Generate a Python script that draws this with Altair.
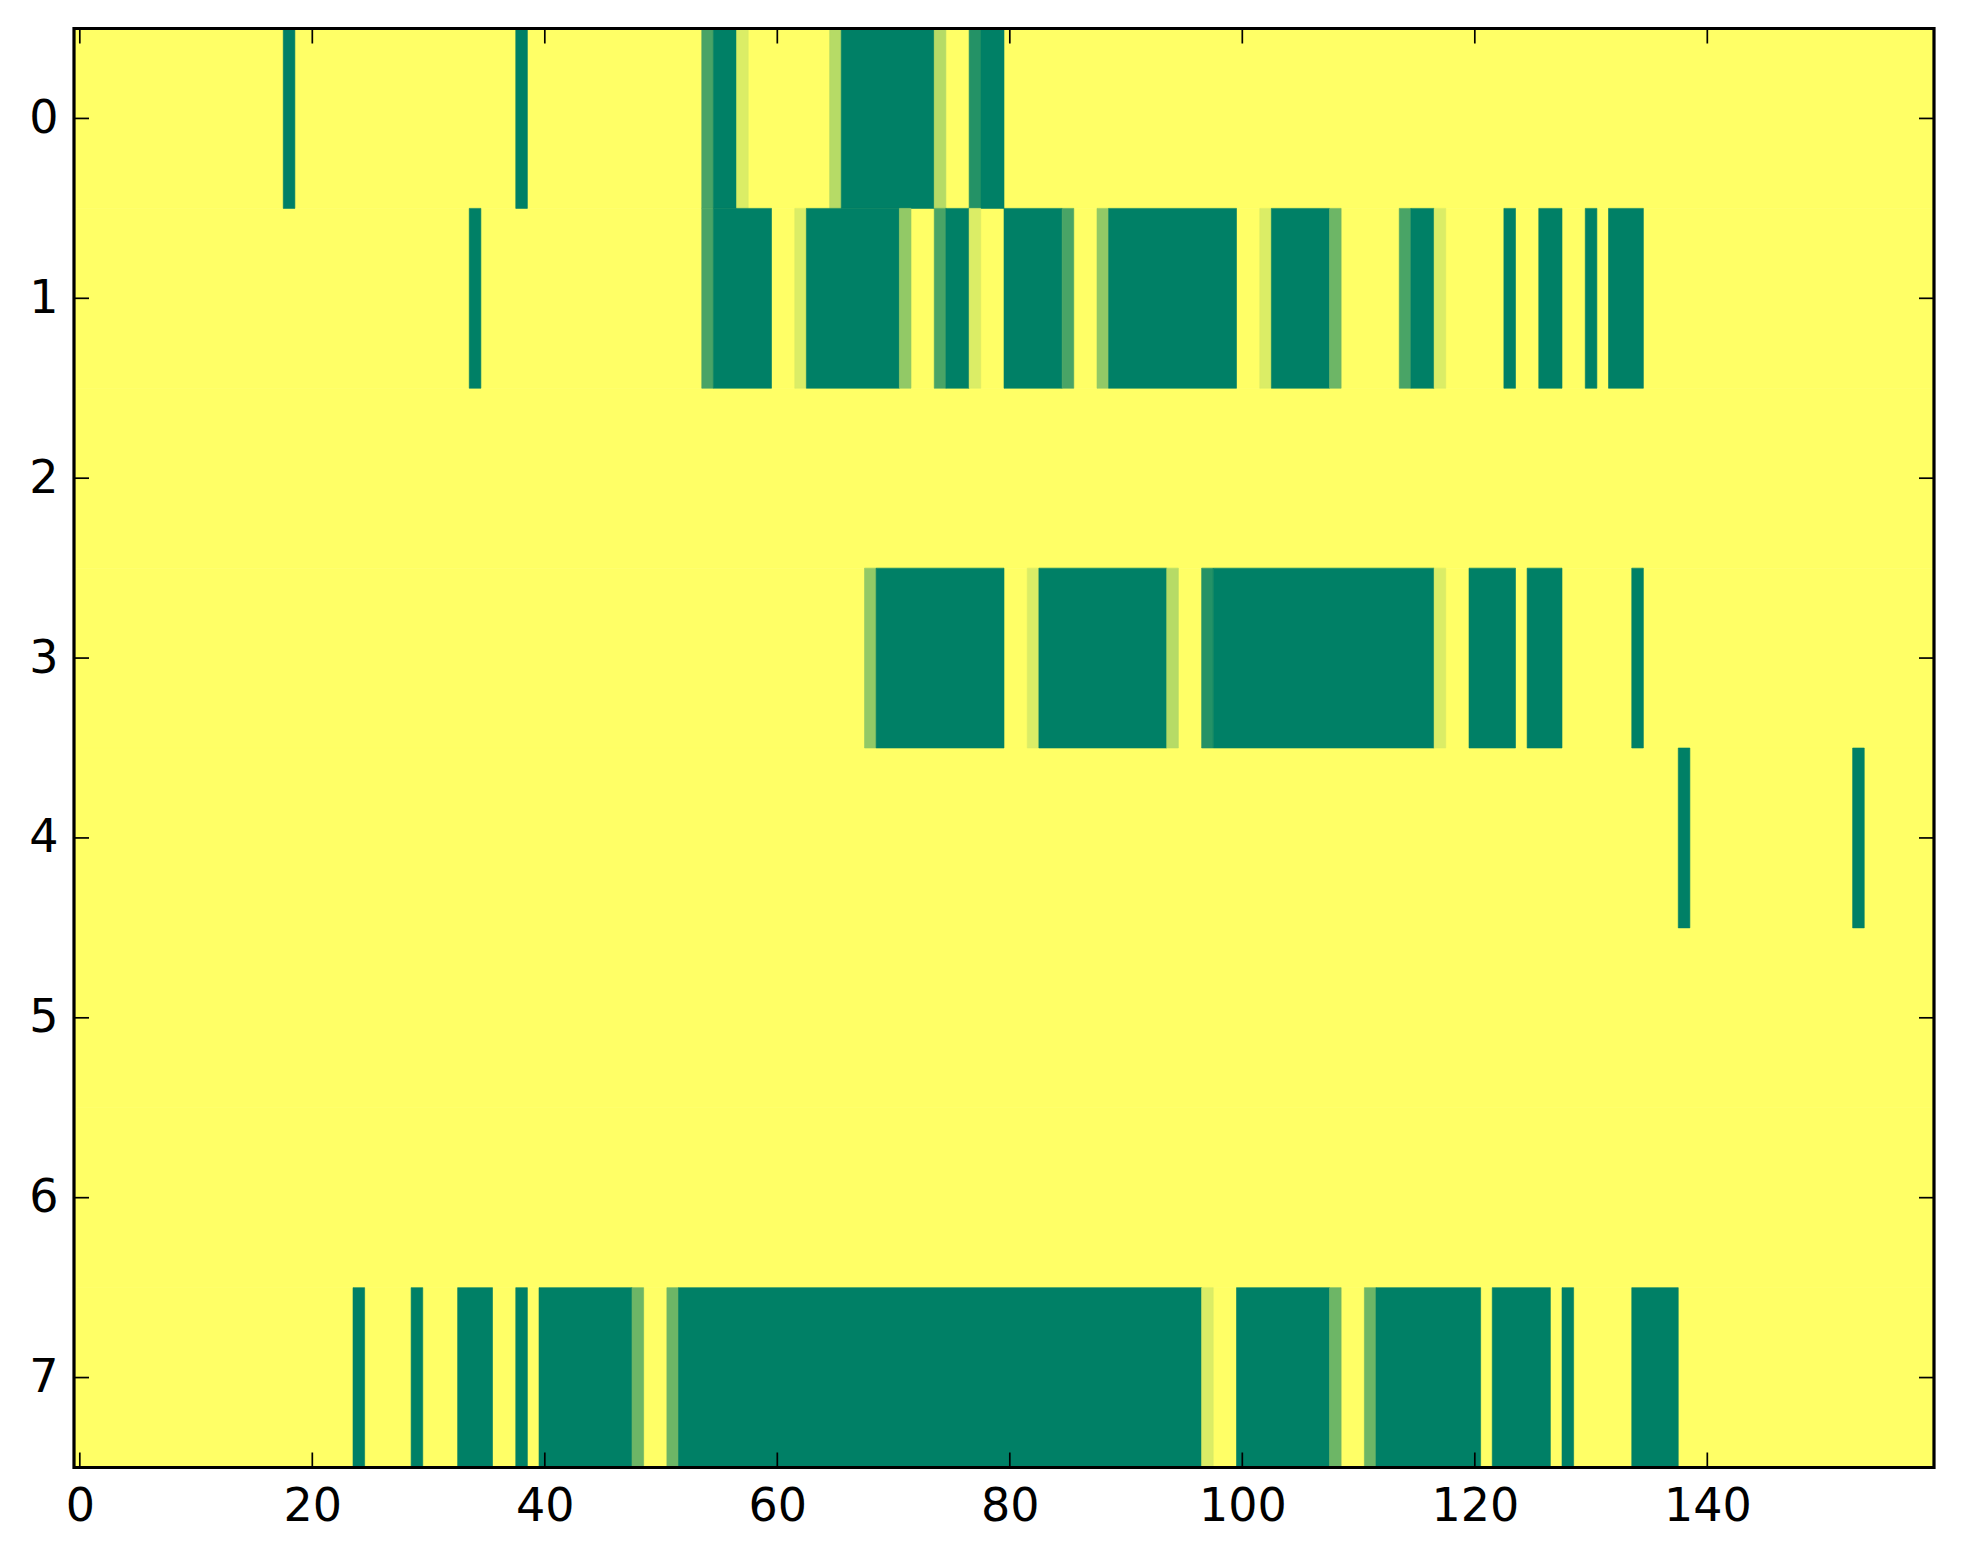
import altair as alt
import pandas as pd

N_COLS = 160
N_ROWS = 8
x_ticks = [0, 20, 40, 60, 80, 100, 120, 140]
y_ticks = [0, 1, 2, 3, 4, 5, 6, 7]

# runs of non-zero cells per row: (first column, last column, level in sevenths)
row0 = [(18, 18, 7), (38, 38, 7), (54, 54, 5), (55, 56, 7), (57, 57, 1),
        (65, 65, 2), (66, 73, 7), (74, 74, 2), (77, 77, 6), (78, 79, 7)]
row1 = [(34, 34, 7), (54, 54, 5), (55, 59, 7), (62, 62, 1), (63, 70, 7),
        (71, 71, 3), (74, 74, 5), (75, 76, 7), (77, 77, 1), (80, 84, 7),
        (85, 85, 5), (88, 88, 3), (89, 99, 7), (102, 102, 1), (103, 107, 7),
        (108, 108, 4), (114, 114, 5), (115, 116, 7), (117, 117, 1),
        (123, 123, 7), (126, 127, 7), (130, 130, 7), (132, 134, 7)]
row2 = []
row3 = [(68, 68, 3), (69, 79, 7), (82, 82, 1), (83, 93, 7), (94, 94, 2),
        (97, 97, 6), (98, 116, 7), (117, 117, 1), (120, 123, 7),
        (125, 127, 7), (134, 134, 7)]
row4 = [(138, 138, 7), (153, 153, 7)]
row5 = []
row6 = []
row7 = [(24, 24, 7), (29, 29, 7), (33, 35, 7), (38, 38, 7), (40, 47, 7),
        (48, 48, 4), (51, 51, 4), (52, 96, 7), (97, 97, 1), (100, 107, 7),
        (108, 108, 4), (111, 111, 4), (112, 120, 7), (122, 126, 7),
        (128, 128, 7), (134, 137, 7)]
rows = [row0, row1, row2, row3, row4, row5, row6, row7]

records = []
for r in range(N_ROWS):
    records.append(dict(x0=-0.5, x1=N_COLS - 0.5, y0=r - 0.5, y1=r + 0.5, v=0.0))
for r, runs in enumerate(rows):
    for s, e, lev in runs:
        records.append(dict(x0=s - 0.5, x1=e + 0.5, y0=r - 0.5, y1=r + 0.5, v=lev / 7))
df = pd.DataFrame(records)

W, H = 1860, 1439
TICK = 15

xs = alt.Scale(domain=[-0.5, N_COLS - 0.5], nice=False, zero=False)
ys = alt.Scale(domain=[-0.5, N_ROWS - 0.5], nice=False, zero=False, reverse=True)
cs = alt.Scale(domain=[0, 1], range=["#ffff66", "#008066"], interpolate="rgb")

axis_common = dict(grid=False, domain=False, ticks=False, tickSize=0,
                   labelFont="DejaVu Sans", labelFontSize=46, labelColor="black",
                   title=None)
x_axis = alt.Axis(values=x_ticks, format="d", labelPadding=17, **axis_common)
y_axis = alt.Axis(values=y_ticks, format="d", labelPadding=16, **axis_common)

heat = alt.Chart(df).mark_rect(strokeWidth=0.6).encode(
    x=alt.X("x0:Q", scale=xs, axis=x_axis),
    x2="x1:Q",
    y=alt.Y("y0:Q", scale=ys, axis=y_axis),
    y2="y1:Q",
    color=alt.Color("v:Q", scale=cs, legend=None),
    stroke=alt.Stroke("v:Q", scale=cs, legend=None),
)

xt = pd.DataFrame({"t": x_ticks})
yt = pd.DataFrame({"t": y_ticks})

x_bottom = alt.Chart(xt).mark_rule(color="black", strokeWidth=1.7).encode(
    x=alt.X("t:Q", scale=xs, axis=x_axis), y=alt.value(H), y2=alt.value(H - TICK))
x_top = alt.Chart(xt).mark_rule(color="black", strokeWidth=1.7).encode(
    x=alt.X("t:Q", scale=xs, axis=x_axis), y=alt.value(0), y2=alt.value(TICK))
y_left = alt.Chart(yt).mark_rule(color="black", strokeWidth=1.7).encode(
    y=alt.Y("t:Q", scale=ys, axis=y_axis), x=alt.value(0), x2=alt.value(TICK))
y_right = alt.Chart(yt).mark_rule(color="black", strokeWidth=1.7).encode(
    y=alt.Y("t:Q", scale=ys, axis=y_axis), x=alt.value(W), x2=alt.value(W - TICK))

frame_df = pd.DataFrame({"k": [0]})
frame = alt.Chart(frame_df).mark_rect(
    filled=False, stroke="black", strokeWidth=3.2, fill=None
).encode(x=alt.value(0), x2=alt.value(W), y=alt.value(0), y2=alt.value(H))

chart = alt.layer(heat, x_bottom, x_top, y_left, y_right, frame).properties(
    width=W, height=H,
    padding={"left": 20, "top": 18.5, "right": 10, "bottom": 10},
).configure_view(stroke=None)

chart.save("out.html", embed_options={"renderer": "svg", "actions": False})
